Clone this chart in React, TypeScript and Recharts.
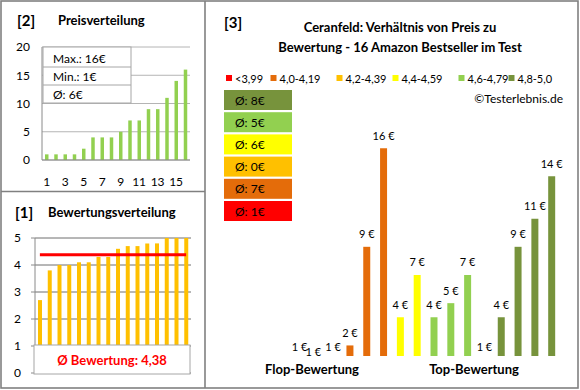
import React from 'react';
import { BarChart, Bar, XAxis, YAxis, CartesianGrid, ReferenceLine, Cell, LabelList } from 'recharts';

const FONT = 'Lato, "Noto Sans", sans-serif';

// [2] Preisverteilung
const priceRanks = ['1', '2', '3', '4', '5', '6', '7', '8', '9', '10', '11', '12', '13', '14', '15', '16'];
const pricesSorted = [1, 1, 1, 1, 2, 4, 4, 4, 5, 7, 7, 9, 9, 11, 14, 16];
const priceTicks = [0, 5, 10, 15, 20];

// [1] Bewertungsverteilung
const ratingsSorted = [2.7, 3.8, 4.0, 4.0, 4.1, 4.1, 4.3, 4.3, 4.6, 4.7, 4.7, 4.8, 4.8, 5.0, 5.0, 5.0];
const ratingTicks = [0, 1, 2, 3, 4, 5];
const avgRating = 4.38;

// [3] Preis vs. Bewertung
const bandLabels = ['<3,99', '4,0-4,19', '4,2-4,39', '4,4-4,59', '4,6-4,79', '4,8-5,0'];
const bandColors = ['#FF0000', '#E46C0A', '#FFC000', '#FFFF00', '#92D050', '#77933C'];
const productPrices = [1, 1, 1, 2, 9, 16, 4, 7, 4, 5, 7, 1, 4, 9, 11, 14];
const productBands = [0, 0, 1, 1, 1, 1, 3, 3, 4, 4, 4, 5, 5, 5, 5, 5];
const boxOrder = [5, 4, 3, 2, 1, 0];
const legendX = [226, 270.5, 336.5, 392.5, 458.5, 508.5];
const labelShift: Record<number, [number, number]> = { 1: [-3, 5] };

const priceData = priceRanks.map((r, i) => ({ rank: r, price: pricesSorted[i] }));
const ratingData = priceRanks.map((r, i) => ({ rank: r, rating: ratingsSorted[i] }));
const productData = productPrices.map((p, i) => ({ id: String(i + 1), price: p, band: productBands[i] }));

const bandAvg = bandLabels.map((_, b) => {
  const vals = productPrices.filter((_, i) => productBands[i] === b);
  return vals.length ? Math.round(vals.reduce((s, v) => s + v, 0) / vals.length) : 0;
});
const priceMax = Math.max(...pricesSorted);
const priceMin = Math.min(...pricesSorted);
const priceAvg = Math.round(pricesSorted.reduce((s, v) => s + v, 0) / pricesSorted.length);

const steps = (a: number, b: number, s: number) => {
  const out: number[] = [];
  for (let v = a; v <= b + 1e-9; v += s) out.push(Math.round(v * 100) / 100);
  return out;
};

const tickStyle = { fontSize: 12, fill: '#000', fontFamily: FONT };

const PriceLabel = (props: any) => {
  const vb = props.viewBox && typeof props.viewBox.x === 'number' ? props.viewBox : props;
  const { x, y, width } = vb;
  const sh = labelShift[props.index] || [0, 0];
  return (
    <text
      x={x + width / 2 + sh[0]}
      y={y - 13 + sh[1]}
      textAnchor="middle"
      dominantBaseline="central"
      fontSize={11}
      fontFamily={FONT}
      fill="#000"
    >
      {`${props.value} €`}
    </text>
  );
};

export default function App() {
  const gray = '#8a8a8a';
  return (
    <div style={{ position: 'absolute', left: 0, top: 0, width: 580, height: 390, background: '#fff', fontFamily: FONT }}>
      {/* Chart [2] */}
      <div style={{ position: 'absolute', left: 0, top: 0 }}>
        <BarChart width={205} height={191} data={priceData} margin={{ top: 47, right: 15, bottom: 0, left: 0 }}>
          <CartesianGrid horizontalValues={steps(0, 20, 1)} vertical={false} stroke="#b4b4b4" />
          <XAxis
            dataKey="rank"
            interval={1}
            tickLine={false}
            axisLine={{ stroke: gray }}
            height={31}
            tickSize={0}
            tickMargin={17}
            tick={tickStyle}
          />
          <YAxis
            domain={[0, 20]}
            ticks={priceTicks}
            width={42}
            tickLine={false}
            axisLine={{ stroke: gray }}
            tickSize={0}
            tickMargin={12}
            tick={tickStyle}
          />
          <Bar dataKey="price" fill="#92D050" barSize={3.5} isAnimationActive={false} />
        </BarChart>
      </div>

      {/* Chart [1] */}
      <div style={{ position: 'absolute', left: 0, top: 191 }}>
        <BarChart width={205} height={197} data={ratingData} margin={{ top: 47, right: 14, bottom: 15, left: 0 }}>
          <CartesianGrid horizontalValues={steps(0, 5, 0.2)} vertical={false} stroke="#c4c4c4" />
          <CartesianGrid horizontalValues={ratingTicks} vertical={false} stroke="#8c8c8c" />
          <XAxis dataKey="rank" hide />
          <YAxis
            domain={[0, 5]}
            ticks={ratingTicks}
            width={35}
            tickLine={{ stroke: gray }}
            axisLine={{ stroke: gray }}
            tickSize={4}
            tickMargin={10}
            tick={tickStyle}
          />
          <Bar dataKey="rating" fill="#FFC000" barSize={4} isAnimationActive={false} />
          <ReferenceLine
            segment={[{ x: '1', y: avgRating }, { x: '16', y: avgRating }]}
            stroke="#FF0000"
            strokeWidth={3}
          />
        </BarChart>
      </div>

      {/* Chart [3] */}
      <div style={{ position: 'absolute', left: 205, top: 0 }}>
        <BarChart width={373} height={388} data={productData} margin={{ top: 120, right: 18, bottom: 32, left: 86 }}>
          <XAxis dataKey="id" hide />
          <YAxis domain={[1.25, 18]} allowDataOverflow hide />
          <Bar dataKey="price" barSize={7} isAnimationActive={false}>
            {productData.map((d, i) => (
              <Cell key={i} fill={bandColors[d.band]} />
            ))}
            <LabelList dataKey="price" content={PriceLabel} />
          </Bar>
        </BarChart>
      </div>

      {/* Overlay */}
      <svg width={580} height={390} style={{ position: 'absolute', left: 0, top: 0, pointerEvents: 'none' }} fontFamily={FONT}>
        <rect x={1} y={1} width={577} height={387} fill="none" stroke="#808080" strokeWidth={1.6} />
        <line x1={205} y1={1} x2={205} y2={388} stroke="#808080" strokeWidth={1.6} />
        <line x1={1} y1={191.5} x2={205} y2={191.5} stroke="#808080" strokeWidth={1.6} />

        {/* titles */}
        <text x={17} y={20} fontSize={15} fontWeight="bold" dominantBaseline="central" fill="#000">[2]</text>
        <text x={58} y={20} fontSize={13} fontWeight="bold" dominantBaseline="central" fill="#000">Preisverteilung</text>
        <text x={15} y={212} fontSize={15} fontWeight="bold" dominantBaseline="central" fill="#000">[1]</text>
        <text x={48} y={212} fontSize={13} fontWeight="bold" dominantBaseline="central" fill="#000">Bewertungsverteilung</text>
        <text x={224} y={22} fontSize={15} fontWeight="bold" dominantBaseline="central" fill="#000">[3]</text>
        <text x={400} y={27} fontSize={13} fontWeight="bold" textAnchor="middle" dominantBaseline="central" fill="#000">
          Ceranfeld: Verhältnis von Preis zu
        </text>
        <text x={400} y={47} fontSize={13} fontWeight="bold" textAnchor="middle" dominantBaseline="central" fill="#000">
          Bewertung - 16 Amazon Bestseller im Test
        </text>

        {/* price stats box */}
        <rect x={43} y={47} width={88} height={56} fill="#fff" stroke="#a6a6a6" />
        <line x1={43} y1={67} x2={131} y2={67} stroke="#a6a6a6" />
        <line x1={43} y1={85} x2={131} y2={85} stroke="#a6a6a6" />
        <text x={53} y={58} fontSize={12} dominantBaseline="central" fill="#000">{`Max.: ${priceMax}€`}</text>
        <text x={53} y={76} fontSize={12} dominantBaseline="central" fill="#000">{`Min.: ${priceMin}€`}</text>
        <text x={53} y={94} fontSize={12} dominantBaseline="central" fill="#000">{`Ø: ${priceAvg}€`}</text>

        {/* rating avg box */}
        <rect x={34} y={345} width={156} height={29} fill="#fff" stroke="#a6a6a6" />
        <text x={112} y={359.5} fontSize={13} fontWeight="bold" textAnchor="middle" dominantBaseline="central" fill="#FF0000">
          {`Ø Bewertung: ${avgRating.toFixed(2).replace('.', ',')}`}
        </text>

        {/* legend */}
        {bandLabels.map((l, i) => (
          <g key={l}>
            <rect x={legendX[i]} y={75} width={6} height={6} fill={bandColors[i]} />
            <text x={legendX[i] + 9} y={78} fontSize={11} dominantBaseline="central" fill="#000">{l}</text>
          </g>
        ))}
        <text x={563} y={98} fontSize={12} textAnchor="end" dominantBaseline="central" fill="#000">©Testerlebnis.de</text>

        {/* band average boxes */}
        {boxOrder.map((b, i) => (
          <g key={b}>
            <rect x={224} y={90 + i * 22.2} width={68} height={20} fill={bandColors[b]} />
            <text x={235} y={100 + i * 22.2} fontSize={12} dominantBaseline="central" fill="#000">{`Ø: ${bandAvg[b]}€`}</text>
          </g>
        ))}

        <text x={312} y={369} fontSize={13} fontWeight="bold" textAnchor="middle" dominantBaseline="central" fill="#000">Flop-Bewertung</text>
        <text x={474} y={369} fontSize={13} fontWeight="bold" textAnchor="middle" dominantBaseline="central" fill="#000">Top-Bewertung</text>
      </svg>
    </div>
  );
}
